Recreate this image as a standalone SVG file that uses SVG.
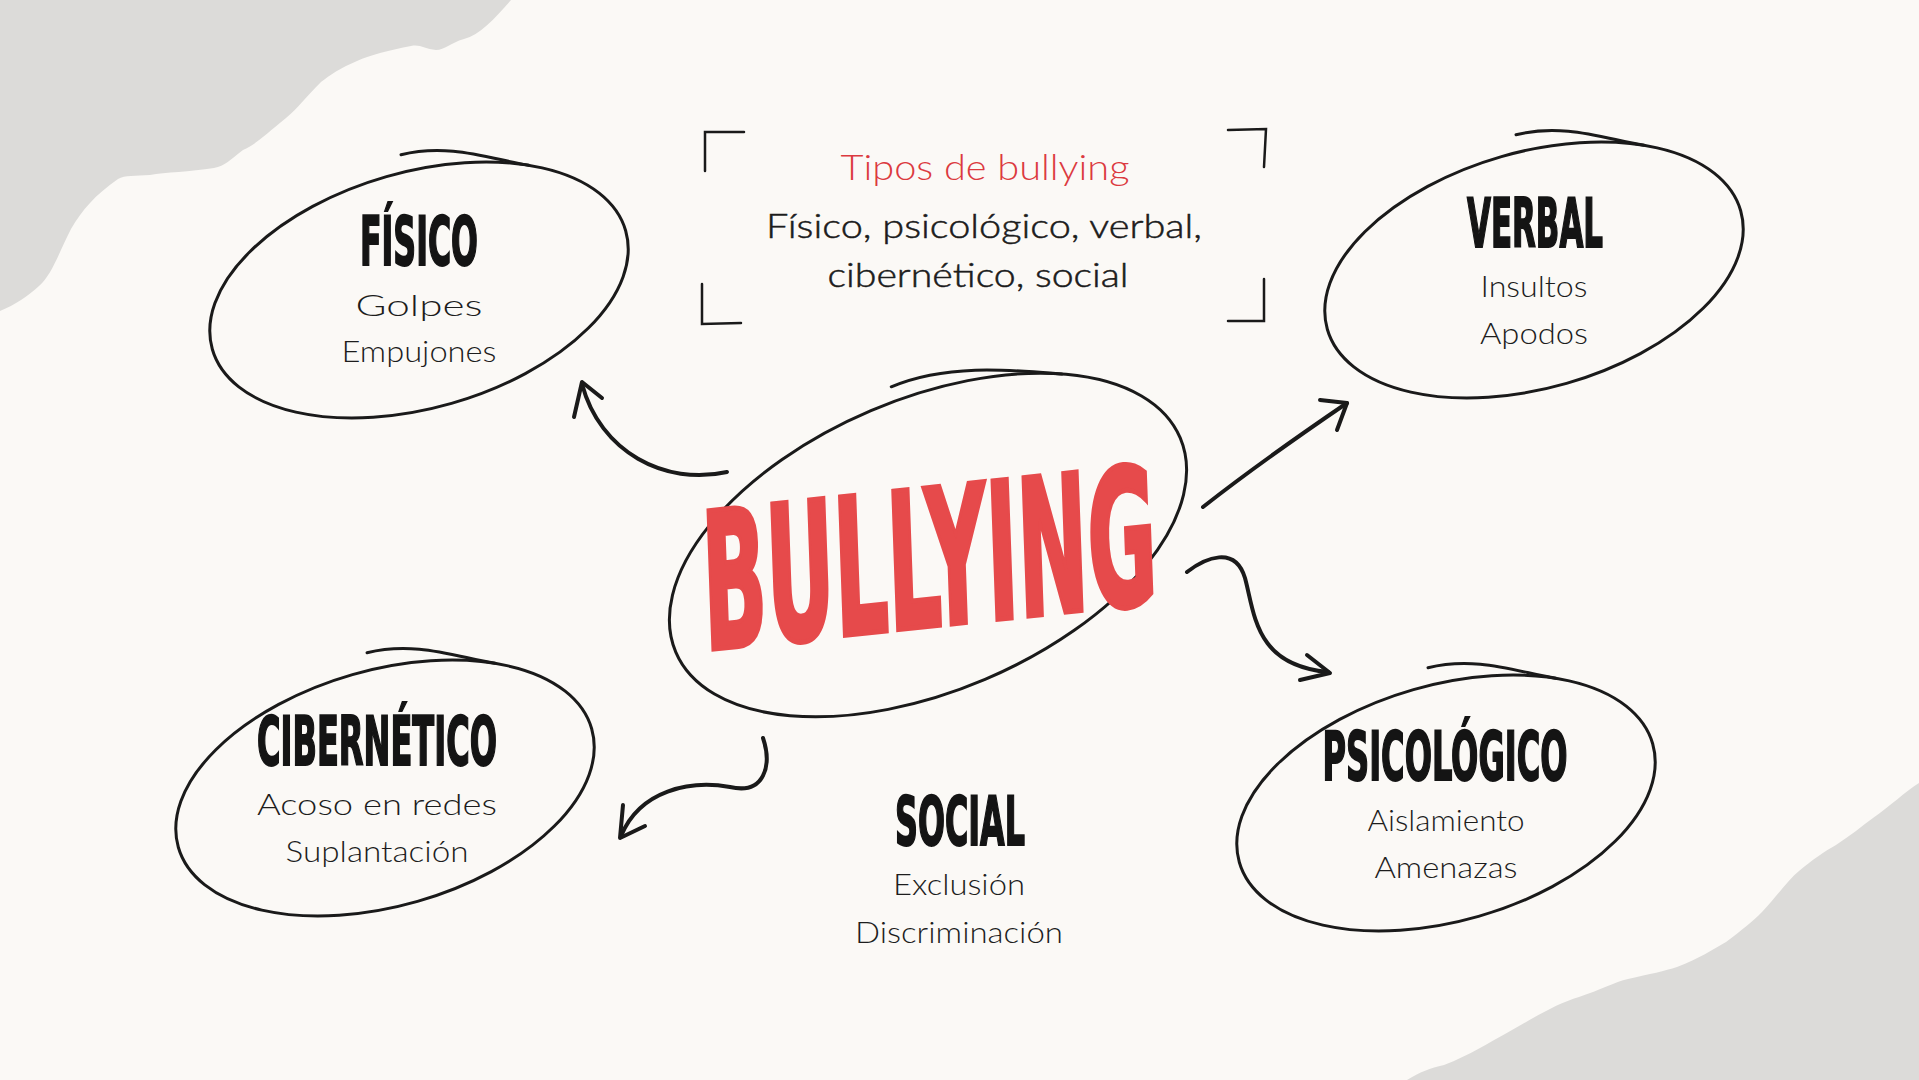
<svg xmlns="http://www.w3.org/2000/svg" xmlns:xlink="http://www.w3.org/1999/xlink" width="1919" height="1080" viewBox="0 0 1919 1080">
<style>
.ring{fill:none;stroke:#1a1a1a;stroke-width:3;stroke-linecap:round}
.arrow{fill:none;stroke:#1a1a1a;stroke-width:4;stroke-linecap:round;stroke-linejoin:round}
.title{font-family:"Liberation Sans Narrow","DejaVu Sans Condensed","Liberation Sans",sans-serif;font-weight:bold;font-size:68px;fill:#141414;stroke:#141414;stroke-width:2;text-anchor:middle}
.sub{font-family:Lato,"Open Sans",sans-serif;font-weight:300;font-size:30px;fill:#1d1d1d;text-anchor:middle}
.box{font-family:Lato,"Open Sans",sans-serif;font-weight:300;font-size:33px;fill:#1c1c1c;stroke:#1c1c1c;stroke-width:0.5;text-anchor:middle}
.bracket{fill:none;stroke:#1a1a1a;stroke-width:2.5;stroke-linecap:round}
</style>
<defs>
<g id="ring">
<g transform="rotate(-16)">
<ellipse class="ring" cx="0" cy="0" rx="215" ry="118"/>
<path class="ring" d="M 20,-135 C 70,-133 105,-106 140,-89.6"/>
</g>
</g>
</defs>
<rect width="1919" height="1080" fill="#fbf9f6"/>
<path d="M 0,0 L 511,0 C 495,18 480,35 464,39 C 450,43 445,50 436,50 C 425,49 420,44 411,46 C 390,50 370,55 357,61 C 340,68 330,75 321,82 C 305,98 298,108 286,118 C 265,135 255,145 243,150 C 230,160 225,166 214,168 C 190,172 165,172 150,175 C 135,176 125,175 118,179 C 95,195 82,210 71,229 C 60,250 52,275 39,286 C 28,296 15,305 0,311 Z" fill="#dcdbd9"/>
<path d="M 1407,1080 C 1420,1072 1430,1068 1444,1065 C 1470,1055 1490,1042 1505,1034 C 1530,1020 1555,1004 1579,997 C 1600,990 1615,982 1628,979 C 1650,974 1665,971 1677,967 C 1700,958 1712,950 1726,942 C 1742,930 1752,922 1762,912 C 1778,895 1788,880 1799,871 C 1812,860 1825,851 1836,845 C 1850,836 1862,826 1873,818 C 1890,806 1905,792 1919,783 L 1919,1080 Z" fill="#dcdbd9"/>

<g id="connectors">
<g id="edge-fisico">
<path class="arrow" d="M 727,472 C 665,486 600,452 582,384"/>
<path class="arrow" d="M 574,417 L 582,382 L 602,398"/>
</g>
<g id="edge-verbal">
<path class="arrow" d="M 1203,507 C 1250,470 1300,435 1347,403"/>
<path class="arrow" d="M 1320,400 L 1347,403 L 1337,430"/>
</g>
<g id="edge-psicologico">
<path class="arrow" d="M 1187,572 C 1205,558 1235,545 1245,578 C 1255,615 1255,665 1328,672"/>
<path class="arrow" d="M 1307,655 L 1330,673 L 1300,680"/>
</g>
<g id="edge-cibernetico">
<path class="arrow" d="M 763,738 C 772,765 765,795 730,787 C 690,780 640,790 621,836"/>
<path class="arrow" d="M 623,805 L 620,838 L 645,826"/>
</g>
</g>

<g id="node-bullying">
<g transform="translate(928,545) rotate(-23)">
<ellipse class="ring" cx="0" cy="0" rx="274" ry="146"/>
<path class="ring" d="M 28,-160 C 90,-160 150,-126 190,-105"/>
</g>
<text transform="translate(705,650) rotate(-2) skewY(-4)" x="0" y="0" textLength="455" lengthAdjust="spacingAndGlyphs" style="font-family:'Liberation Sans Narrow','DejaVu Sans Condensed','Liberation Sans',sans-serif;font-weight:bold;font-size:190px;fill:#e64a4b;stroke:#e64a4b;stroke-width:5">BULLYING</text>
</g>

<g id="node-tipos">
<path class="bracket" d="M 744,132 L 705,132 L 705,171"/>
<path class="bracket" d="M 1228,130 L 1266,129 L 1264,167"/>
<path class="bracket" d="M 702,284 L 702,324 L 741,323"/>
<path class="bracket" d="M 1264,279 L 1264,321 L 1228,321"/>
<text x="985" y="180" textLength="289" lengthAdjust="spacingAndGlyphs" style="font-family:Lato,'Open Sans',sans-serif;font-weight:300;font-size:36px;fill:#dc3a3f;text-anchor:middle">Tipos de bullying</text>
<text class="box" x="984" y="238" textLength="436" lengthAdjust="spacingAndGlyphs">Físico, psicológico, verbal,</text>
<text class="box" x="978" y="287" textLength="301" lengthAdjust="spacingAndGlyphs">cibernético, social</text>
</g>

<g id="node-fisico">
<use xlink:href="#ring" transform="translate(419,290)"/>
<text class="title" x="419" y="265" textLength="118" lengthAdjust="spacingAndGlyphs">FÍSICO</text>
<text class="sub" x="419" y="316" textLength="127" lengthAdjust="spacingAndGlyphs">Golpes</text>
<text class="sub" x="419" y="362" textLength="155" lengthAdjust="spacingAndGlyphs">Empujones</text>
</g>

<g id="node-verbal">
<use xlink:href="#ring" transform="translate(1534,270)"/>
<text class="title" x="1535" y="247" textLength="136" lengthAdjust="spacingAndGlyphs">VERBAL</text>
<text class="sub" x="1534" y="297" textLength="107" lengthAdjust="spacingAndGlyphs">Insultos</text>
<text class="sub" x="1534" y="344" textLength="108" lengthAdjust="spacingAndGlyphs">Apodos</text>
</g>

<g id="node-cibernetico">
<use xlink:href="#ring" transform="translate(385,788)"/>
<text class="title" x="377" y="765" textLength="240" lengthAdjust="spacingAndGlyphs">CIBERNÉTICO</text>
<text class="sub" x="377" y="815" textLength="240" lengthAdjust="spacingAndGlyphs">Acoso en redes</text>
<text class="sub" x="377" y="862" textLength="183" lengthAdjust="spacingAndGlyphs">Suplantación</text>
</g>

<g id="node-psicologico">
<use xlink:href="#ring" transform="translate(1446,803)"/>
<text class="title" x="1445" y="780" textLength="245" lengthAdjust="spacingAndGlyphs">PSICOLÓGICO</text>
<text class="sub" x="1446" y="831" textLength="157" lengthAdjust="spacingAndGlyphs">Aislamiento</text>
<text class="sub" x="1446" y="878" textLength="143" lengthAdjust="spacingAndGlyphs">Amenazas</text>
</g>

<g id="node-social">
<text class="title" x="960" y="845" textLength="130" lengthAdjust="spacingAndGlyphs">SOCIAL</text>
<text class="sub" x="959" y="895" textLength="132" lengthAdjust="spacingAndGlyphs">Exclusión</text>
<text class="sub" x="959" y="943" textLength="208" lengthAdjust="spacingAndGlyphs">Discriminación</text>
</g>
</svg>
